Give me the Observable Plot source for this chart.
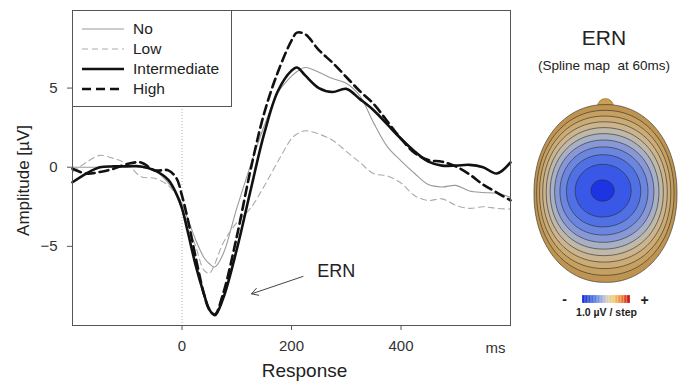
<!DOCTYPE html>
<html>
<head>
<meta charset="utf-8">
<script src="https://cdn.jsdelivr.net/npm/d3@7"></script>
<script src="https://cdn.jsdelivr.net/npm/@observablehq/plot@0.6"></script>
<style>
  html, body { margin: 0; padding: 0; background: #fff; }
  body { font-family: "Liberation Sans", Arial, sans-serif; }
  #wrap { position: relative; width: 689px; height: 382px; overflow: hidden; background: #fff; }
  #main, #topo, #bar { position: absolute; }
  #main { left: 0; top: 0; }
  #topo { left: 520px; top: 0; }
  #bar { left: 575px; top: 295px; }
  #legend { position: absolute; left: 72px; top: 10px; width: 160px; height: 97px;
            box-sizing: border-box; border: 1px solid #555; background: #fff; }
  #legend .row { position: absolute; left: 0; height: 20px; display: flex; align-items: center; }
  #legend svg { display: block; }
  #legend span { margin-left: 4px; font-size: 15.5px; color: #222; line-height: 20px; }
</style>
</head>
<body>
<div id="wrap">
  <div id="main"></div>
  <div id="topo"></div>
  <div id="bar"></div>
  <div id="legend"></div>
</div>
<script>
// ---------------- data ----------------
const times = [-200, -175, -150, -125, -100, -75, -50, -25, -10, 0, 10, 25, 40, 50, 60, 75, 100, 125, 150, 175,
               200, 210, 225, 250, 275, 300, 325, 350, 375, 400, 425, 450, 475, 500, 525, 550, 575, 600];
const noValues = [0, 0, 0, 0.05, 0.1, 0, -0.2, -1.0, -1.7, -2.3, -3.2, -4.6, -5.7, -6.1, -6.3, -5.5, -2.6, 0.1, 2.6, 4.7,
                  5.75, 6.05, 6.3, 6.0, 5.6, 5.3, 4.5, 2.8, 1.3, 0.4, -0.4, -1.1, -1.25, -1.15, -1.5, -1.6, -1.65, -1.9];
const lowValues = [-0.3, 0.3, 0.75, 0.55, 0.2, -0.6, -0.7, -1.15, -1.8, -2.5, -3.6, -5.0, -6.5, -6.7, -6.1, -4.8, -3.5, -2.6, -1.2, 0.35,
                   1.8, 2.1, 2.3, 2.1, 1.7, 1.0, 0.3, -0.4, -0.55, -1.0, -1.8, -2.1, -2.0, -2.4, -2.6, -2.5, -2.6, -2.65];
const intermediateValues = [-0.95, -0.4, 0, 0.05, 0.05, 0.05, -0.2, -0.8, -1.7, -2.6, -4.0, -6.2, -8.0, -9.0, -9.35, -8.3, -5.2, -1.5, 2.1, 4.8,
                            6.1, 6.3, 5.8, 5.0, 4.75, 4.95, 4.3, 3.6, 2.7, 1.8, 1.0, 0.35, 0.1, 0.1, 0.15, 0.0, -0.4, 0.3];
const highValues = [-0.1, -0.4, -0.3, -0.1, 0.2, 0.3, -0.2, -0.2, -0.7, -1.8, -3.2, -5.7, -8.0, -9.0, -9.3, -8.0, -4.4, -0.2, 3.4, 6.0,
                    8.0, 8.5, 8.4, 7.4, 6.6, 5.7, 4.8, 4.0, 2.9, 1.8, 0.9, 0.45, 0.35, 0.05, -0.45, -1.1, -1.6, -2.1];
const seriesNames = ["No", "Low", "Intermediate", "High"];
const xTicks = [0, 200, 400];
const yTicks = [-5, 0, 5];
const ernArrow = [{t1: 221, v1: -6.9, t2: 127, v2: -8.0}];
const ernLabel = [{t: 247, v: -6.6, text: "ERN"}];

// topographic map (spline map at 60 ms)
const topoTitle = "ERN";
const topoSubtitle = "(Spline map  at 60ms)";
const topoPeak = -10.2;                       // µV at the centre of the map
const contourLevels = [0, 1, 2, 3, 4, 5, 6, 7, 8, 9, 10];
const colorSteps = [-8, -7, -6, -5, -4, -3, -2, -1, 0, 1, 2, 3, 4, 5, 6, 7];
const stepLabel = "1.0 µV / step";

// ---------------- styles ----------------
const font = "'Liberation Sans', Arial, sans-serif";
const lineStyles = {
  "No":           {stroke: "#9a9a9a", strokeWidth: 1.1, dash: null},
  "Low":          {stroke: "#ababab", strokeWidth: 1.1, dash: "6,4"},
  "Intermediate": {stroke: "#111",    strokeWidth: 2.6, dash: null},
  "High":         {stroke: "#111",    strokeWidth: 2.6, dash: "9,5"}
};
const seriesValues = {"No": noValues, "Low": lowValues, "Intermediate": intermediateValues, "High": highValues};
const bandColors = ["#bf9350", "#c6a060", "#cbac74", "#cbb48e", "#c0b8a8", "#a8b0c6", "#8898d6", "#6a86de", "#5070e4", "#3a58e8", "#1c34e4"];
const barAnchors = [-8, -4, -1, 0, 2, 5, 7];
const barColors = ["#1b2fd6", "#5a7ee6", "#b8c0d8", "#d8d0b8", "#f5cc70", "#ec7a34", "#c81818"];
// head outline and location of the negativity
const head = {cx: 605, cy: 193, rx: 71.5, ry: 89, shape: 2.1, noseY: 106};
const peakSpot = {cx: 602, cy: 190, rx: 84, ry: 76};

// ---------------- main ERP chart ----------------
const lineMarks = seriesNames.map(name => {
  const s = lineStyles[name];
  const vals = seriesValues[name];
  return Plot.line(times, {
    x: d => d, y: (d, i) => vals[i],
    stroke: s.stroke, strokeWidth: s.strokeWidth,
    strokeDasharray: s.dash ?? undefined, curve: "catmull-rom"
  });
});

const main = Plot.plot({
  width: 520, height: 382,
  marginLeft: 72, marginRight: 10, marginTop: 10, marginBottom: 57,
  x: {domain: [-200, 600]},
  y: {domain: [-10, 9.9]},
  style: {fontFamily: font, fontSize: "15px", color: "#333", background: "transparent", overflow: "visible"},
  marks: [
    Plot.ruleX([0], {stroke: "#b0b0b0", strokeDasharray: "1,2"}),
    ...lineMarks,
    Plot.arrow(ernArrow, {x1: "t1", y1: "v1", x2: "t2", y2: "v2", stroke: "#444", strokeWidth: 1, headLength: 11}),
    Plot.text(ernLabel, {x: "t", y: "v", text: "text", textAnchor: "start", fontSize: 18, fill: "#222"}),
    Plot.frame({stroke: "#555"}),
    Plot.axisY({ticks: yTicks, tickSize: 5, tickPadding: 10, label: null, fontSize: 15, stroke: "#555"}),
    Plot.axisX({ticks: xTicks, tickSize: 5, tickPadding: 10, label: null, fontSize: 15, stroke: "#555"}),
    Plot.text(["ms"], {text: d => d, frameAnchor: "bottom-right", dx: -5, dy: 23, lineAnchor: "middle", textAnchor: "end", fontSize: 15}),
    Plot.text(["Response"], {text: d => d, frameAnchor: "bottom", dx: 13, dy: 45, lineAnchor: "middle", fontSize: 19, fill: "#222"}),
    Plot.text(["Amplitude [µV]"], {text: d => d, frameAnchor: "left", dx: -48.5, dy: 12.5, rotate: -90,
                                   textAnchor: "middle", lineAnchor: "middle", fontSize: 17, fill: "#222"})
  ]
});
document.getElementById("main").append(main);

// legend
const legend = document.getElementById("legend");
seriesNames.forEach((name, i) => {
  const s = lineStyles[name];
  const row = document.createElement("div");
  row.className = "row";
  row.style.top = (8 + 20 * i) + "px";
  row.innerHTML = `<svg width="56" height="20"><line x1="9" x2="51" y1="10" y2="10" stroke="${s.stroke}" stroke-width="${s.strokeWidth}" ${s.dash ? `stroke-dasharray="${s.dash}"` : ""}/></svg><span>${name}</span>`;
  legend.append(row);
});

// ---------------- topographic map ----------------
function field(x, y) {
  const p = head.shape;
  const dHead = Math.pow(Math.abs((x - head.cx) / head.rx) ** p + Math.abs((y - head.cy) / head.ry) ** p, 1 / p);
  const dSpot = Math.hypot((x - peakSpot.cx) / peakSpot.rx, (y - peakSpot.cy) / peakSpot.ry);
  const w = Math.min(1, dHead * dHead);
  const d = w * dHead + (1 - w) * dSpot;
  return -topoPeak * (1 - d * d);
}

const topo = Plot.plot({
  width: 169, height: 382, margin: 0,
  x: {domain: [520, 689], range: [0, 169], axis: null},
  y: {domain: [0, 382], range: [0, 382], axis: null},
  color: {type: "linear", domain: contourLevels, range: bandColors},
  style: {fontFamily: font, background: "transparent", color: "#222"},
  marks: [
    Plot.text([topoTitle], {text: d => d, frameAnchor: "top", dx: -1, dy: 38, lineAnchor: "middle", fontSize: 21, fill: "#222"}),
    Plot.text([topoSubtitle], {text: d => d, frameAnchor: "top", dx: -1, dy: 65, lineAnchor: "middle", fontSize: 13.5, fill: "#222"}),
    Plot.dot([head], {x: "cx", y: "noseY", r: 8, fill: "#c9a050", stroke: "#8a6a30", strokeWidth: 0.6}),
    Plot.contour({
      x1: 528, y1: 95, x2: 684, y2: 292,
      fill: field, thresholds: contourLevels, pixelSize: 1,
      stroke: "#2a2a2a", strokeWidth: 0.7, strokeOpacity: 0.85
    }),
    Plot.text(["-"], {text: d => d, frameAnchor: "top-left", dx: 44, dy: 299, lineAnchor: "middle", textAnchor: "middle", fontSize: 14, fontWeight: "bold", fill: "#222"}),
    Plot.text(["+"], {text: d => d, frameAnchor: "top-left", dx: 124, dy: 300, lineAnchor: "middle", textAnchor: "middle", fontSize: 14, fontWeight: "bold", fill: "#222"}),
    Plot.text([stepLabel], {text: d => d, frameAnchor: "top-left", dx: 86, dy: 312, lineAnchor: "middle", textAnchor: "middle", fontSize: 10.5, fontWeight: "bold", fill: "#222"})
  ]
});
document.getElementById("topo").append(topo);

// colour bar
const bar = Plot.plot({
  width: 62, height: 8, margin: 0,
  x: {type: "band", domain: colorSteps, padding: 0, axis: null},
  color: {type: "linear", domain: barAnchors, range: barColors},
  style: {background: "transparent"},
  marks: [
    Plot.cell(colorSteps, {x: d => d, fill: d => d, stroke: "rgba(255,255,255,0.45)", strokeWidth: 0.5})
  ]
});
document.getElementById("bar").append(bar);
</script>
</body>
</html>
